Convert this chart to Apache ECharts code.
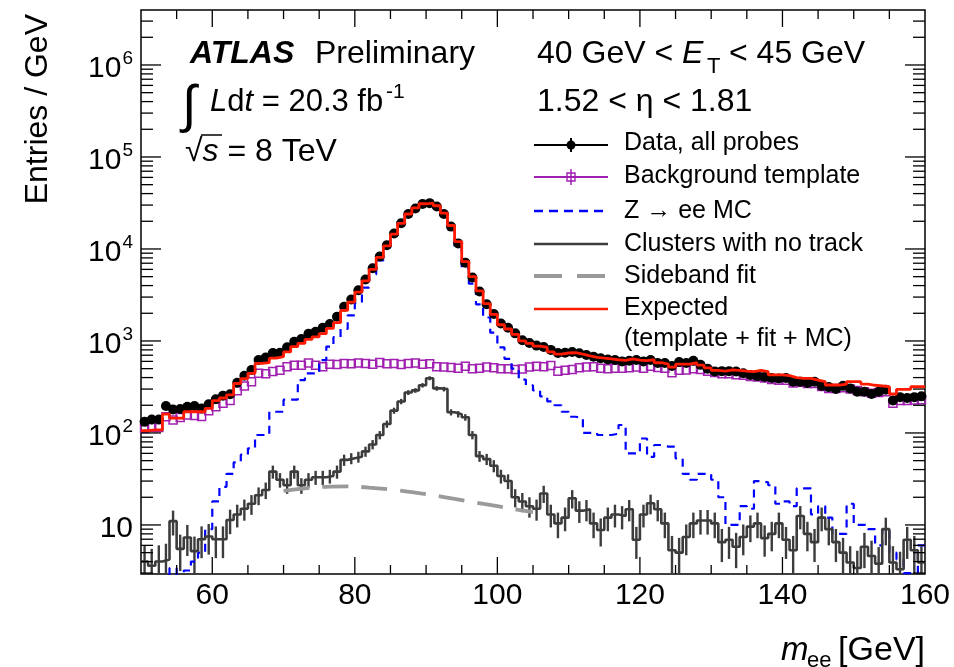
<!DOCTYPE html>
<html>
<head>
<meta charset="utf-8">
<title>m_ee tag-and-probe</title>
<script src="https://cdn.jsdelivr.net/npm/echarts@6.0.0/dist/echarts.min.js"></script>
<style>
    html, body { margin: 0; padding: 0; background: #fff; }
    #main { width: 954px; height: 667px; }
</style>
</head>
<body>
<div id="main"></div>
<script>
// 1 GeV bins from 50 to 160 GeV, entries / GeV
var xMin = 50, xMax = 160, yMin = 2.93, yMax = 3.96e6;

var dataProbes = [
    132, 140, 140, 196, 180, 182, 193, 196, 184, 205,
    232, 254, 263, 352, 418, 484, 620, 660, 740, 745,
    855, 980, 1050, 1200, 1260, 1390, 1530, 1830, 2350, 2820,
    3560, 4660, 6160, 8300, 11000, 14700, 19000, 24000, 27600, 30800,
    31500, 29000, 24000, 17500, 11500, 7100, 4900, 3450, 2510, 1960,
    1550, 1390, 1210, 1020, 950, 890, 860, 800, 740, 745,
    760, 735, 705, 675, 650, 630, 620, 600, 610, 620,
    600, 620, 575, 575, 535, 590, 575, 610, 550, 500,
    465, 470, 470, 465, 445, 427, 415, 405, 395, 390,
    395, 360, 360, 350, 360, 325, 315, 300, 325, 305,
    280, 280, 265, 280, 295, 225, 245, 240, 245, 250
];

var bkgTemplate = [
    112, 115, 115, 150, 138, 147, 157, 155, 151, 174,
    193, 210, 225, 287, 324, 360, 445, 440, 465, 480,
    525, 545, 545, 575, 545, 525, 560, 555, 570, 565,
    575, 570, 560, 585, 565, 570, 555, 570, 575, 560,
    565, 525, 520, 515, 505, 530, 500, 505, 520, 510,
    500, 500, 490, 495, 520, 530, 525, 540, 470, 480,
    490, 510, 520, 525, 505, 500, 505, 505, 510, 520,
    505, 530, 515, 505, 450, 480, 485, 500, 490, 470,
    455, 440, 440, 430, 425, 410, 405, 395, 380, 375,
    375, 350, 355, 345, 345, 320, 305, 305, 310, 300,
    290, 280, 270, 275, 280, 210, 225, 225, 228, 230
];

var zeeMC = [
    1, 1, 1.5, 2, 3.4, 2.5, 3.2, 4, 5, 9,
    18, 26, 36, 48, 58, 68, 95, 95, 170, 170,
    230, 230, 375, 445, 445, 620, 870, 1100, 1350, 1900,
    2600, 3800, 5300, 7500, 10200, 14000, 18500, 23500, 27000, 30000,
    30500, 28000, 23000, 16500, 10500, 6200, 4200, 2500, 1800, 1230,
    850, 640, 500, 380, 330, 290, 250, 220, 200, 170,
    150, 145, 100, 100, 95, 95, 98, 122, 60, 60,
    87, 55, 74, 71, 71, 53, 36, 31, 36, 36,
    31, 20, 10, 10, 16, 15, 30, 29, 27, 17,
    18, 16, 25, 25, 13, 16, 12, 8, 8, 17,
    10, 10, 9, 6, 9, 5, 4.2, 3, 3, 6
];

var clustersNoTrack = [
    4, 3.6, 4, 4.2, 11, 5.5, 7.3, 5.2, 7, 7.5,
    7, 7, 11.3, 13, 15, 17, 21, 24, 38, 31,
    27, 38, 27, 31, 33, 33, 34, 38, 51, 53,
    55, 63, 75, 95, 125, 175, 220, 275, 290, 330,
    394, 305, 300, 168, 160, 148, 95, 56, 52, 44,
    34, 30, 20, 18, 16, 15, 22, 13, 10.4, 12,
    19.5, 14.3, 14.8, 10.4, 8.8, 12, 13, 12.5, 14.8, 6.9,
    13, 17.2, 14.8, 10.4, 5.3, 5, 7.4, 10.4, 11.2, 11.2,
    10.4, 6.5, 6.9, 5.8, 7.4, 9.6, 10.4, 7.2, 8, 10.4,
    6.9, 5.3, 12.5, 8, 6.5, 12, 9, 6.5, 5, 3.9,
    3.4, 5.8, 4.6, 3.8, 9, 3.9, 3.3, 6.9, 5.3, 3.9
];

var expected = [
    106, 108, 108, 160, 145, 145, 170, 170, 170, 185,
    225, 240, 260, 345, 390, 445, 570, 580, 650, 675,
    760, 870, 940, 1040, 1110, 1200, 1370, 1580, 2150, 2650,
    3400, 4500, 6000, 8100, 10800, 14500, 19000, 24000, 28000, 31000,
    31500, 29500, 24500, 18000, 12000, 7300, 5000, 3500, 2550, 1950,
    1500, 1350, 1180, 1000, 940, 880, 850, 760, 720, 740,
    745, 720, 690, 665, 650, 640, 625, 615, 640, 620,
    610, 625, 580, 560, 520, 560, 560, 580, 545, 510,
    480, 470, 484, 480, 470, 464, 480, 464, 427, 427,
    420, 400, 392, 392, 375, 361, 332, 332, 340, 361,
    361, 340, 330, 325, 318, 265, 298, 298, 318, 318
];

// sideband fit curve
var fitMass = [70, 73, 76, 79, 82, 85, 88, 91, 94, 97, 100, 103, 105];
var fitValue = [23.5, 25, 26, 26.2, 25.5, 24.3, 22.8, 21, 19.2, 17.5, 16, 14.6, 13.8];

// frame ticks
var xMajorTicks = [60, 80, 100, 120, 140];
var xMinorTicks = [55, 65, 70, 75, 85, 90, 95, 105, 110, 115, 125, 130, 135, 145, 150, 155];
var yMajorTicks = [10, 100, 1000, 10000, 100000, 1000000];
var yMinorSteps = [2, 3, 4, 5, 6, 7, 8, 9];

var FONT = '"Liberation Sans", Arial, Helvetica, sans-serif';
var PURPLE = '#a020b0';
var BLUE = '#0000ff';
var DARK = '#3c3c3c';
var FITGREY = '#9a9a9a';
var RED = '#ff1a00';

var binCenters = dataProbes.map(function (v, i) { return xMin + i + 0.5; });

// histogram outline: point at each low edge, last bin repeated at the upper edge
function stepData(vals) {
    var out = vals.map(function (v, i) { return [xMin + i, v]; });
    out.push([xMax, vals[vals.length - 1]]);
    return out;
}

var tickData = [];
xMajorTicks.forEach(function (v) { tickData.push([v, yMin, 0]); });
xMinorTicks.forEach(function (v) { tickData.push([v, yMin, 1]); });
yMajorTicks.forEach(function (v) { tickData.push([xMin, v, 2]); });
[1, 10, 100, 1000, 10000, 100000, 1000000].forEach(function (d) {
    yMinorSteps.forEach(function (m) {
        var v = d * m;
        if (v > yMin && v < yMax) tickData.push([xMin, v, 3]);
    });
});

function txt(x, y, s, font, align, extra) {
    var el = {
        type: 'text', x: x, y: y, z: 100, silent: true,
        style: {
            text: s, font: font, fill: '#000',
            align: align || 'left', verticalAlign: 'middle',
            textAlign: align || 'left', textVerticalAlign: 'middle'
        }
    };
    if (extra) {
        for (var k in extra) {
            if (k === 'rich') el.style.rich = extra.rich; else el[k] = extra[k];
        }
    }
    return el;
}

function seg(x1, y1, x2, y2, color, w, dash) {
    return {
        type: 'line', z: 100, silent: true,
        shape: { x1: x1, y1: y1, x2: x2, y2: y2 },
        style: { stroke: color, lineWidth: w, lineDash: dash || null }
    };
}

var f32 = '32px ' + FONT, f32i = 'italic 32px ' + FONT;
var legX1 = 534, legX2 = 608, legMid = 571, legText = 624;
var legRows = [145, 177, 211, 244, 276, 309];

var graphics = [
    txt(190, 54, 'ATLAS', 'italic bold 32px ' + FONT),
    txt(315, 54, 'Preliminary', f32),
    txt(182, 108, '\u222B', '52px ' + FONT),
    txt(210, 102, '{i|L}d{i|t} = 20.3 fb', '31px ' + FONT, 'left', { rich: { i: { font: 'italic 31px ' + FONT } } }),
    txt(386, 92, '-1', '21px ' + FONT),
    txt(185, 152, '\u221A{i|s} = 8 TeV', f32, 'left', { rich: { i: { font: f32i } } }),
    seg(201, 135, 222, 135, '#000', 1.5),
    txt(537, 54, '40 GeV < {i|E}', f32, 'left', { rich: { i: { font: f32i } } }),
    txt(707, 67, 'T', '22px ' + FONT),
    txt(729, 54, '< 45 GeV', f32),
    txt(537, 102, '1.52 < \u03B7 < 1.81', f32),
    // legend
    seg(legX1, legRows[0], legX2, legRows[0], '#000', 2),
    seg(legMid, legRows[0] - 7, legMid, legRows[0] + 7, '#000', 2),
    { type: 'circle', z: 100, silent: true, shape: { cx: legMid, cy: legRows[0], r: 4.5 }, style: { fill: '#000' } },
    seg(legX1, legRows[1], legX2, legRows[1], PURPLE, 2),
    seg(legMid, legRows[1] - 8, legMid, legRows[1] + 8, PURPLE, 1.5),
    { type: 'rect', z: 100, silent: true, shape: { x: legMid - 4, y: legRows[1] - 4, width: 8, height: 8 }, style: { fill: 'none', stroke: PURPLE, lineWidth: 1.4 } },
    seg(legX1, legRows[2], legX2, legRows[2], BLUE, 2.5, [9, 6]),
    seg(legX1, legRows[3], legX2, legRows[3], DARK, 2.5),
    seg(legX1, legRows[4], legX2, legRows[4], FITGREY, 4, [28, 15]),
    seg(legX1, legRows[5], legX2, legRows[5], RED, 2.5),
    txt(legText, 143, 'Data, all probes', '25px ' + FONT),
    txt(legText, 176, 'Background template', '25px ' + FONT),
    txt(legText, 211, 'Z \u2192 ee MC', '25px ' + FONT),
    txt(legText, 244, 'Clusters with no track', '25px ' + FONT),
    txt(legText, 276, 'Sideband fit', '25px ' + FONT),
    txt(legText, 308, 'Expected', '25px ' + FONT),
    txt(legText, 339, '(template + fit + MC)', '25px ' + FONT),
    // axis titles
    txt(38, 14, 'Entries / GeV', f32, 'right', { rotation: Math.PI / 2 }),
    txt(781, 651, 'm', 'italic 33px ' + FONT),
    txt(807, 661, 'ee', '22px ' + FONT),
    txt(925, 651, '[GeV]', '34px ' + FONT, 'right')
];

var chart = echarts.init(document.getElementById('main'));

chart.setOption({
    animation: false,
    backgroundColor: '#fff',
    grid: {
        left: 141, right: 29, top: 10, bottom: 93,
        show: true, borderColor: '#000', borderWidth: 1.5, backgroundColor: 'transparent'
    },
    xAxis: {
        type: 'value', min: xMin, max: xMax,
        axisLine: { show: false }, axisTick: { show: false }, splitLine: { show: false },
        axisLabel: { fontSize: 30, fontFamily: FONT, color: '#000', margin: 7, showMinLabel: false }
    },
    yAxis: {
        type: 'log', logBase: 10, min: yMin, max: yMax, splitNumber: 6,
        axisLine: { show: false }, axisTick: { show: false }, splitLine: { show: false },
        axisLabel: {
            showMinLabel: false, showMaxLabel: false, margin: 8, padding: [8, 0, 0, 0],
            formatter: function (v) {
                var p = Math.log10(v), n = Math.round(p);
                if (Math.abs(p - n) > 1e-6) return '';
                return n === 1 ? '{b|10}' : '{b|10}{s|' + n + '}';
            },
            rich: {
                b: { fontSize: 30, lineHeight: 30, fontFamily: FONT, color: '#000', verticalAlign: 'bottom' },
                s: { fontSize: 19, lineHeight: 19, fontFamily: FONT, color: '#000', verticalAlign: 'bottom', padding: [0, 0, 16, 1] }
            }
        }
    },
    graphic: graphics,
    series: [
        {
            name: 'Background template', type: 'scatter',
            data: binCenters.map(function (c, i) { return [c, bkgTemplate[i]]; }),
            symbol: 'rect', symbolSize: 8,
            itemStyle: { color: 'rgba(0,0,0,0)', borderColor: PURPLE, borderWidth: 1.5, opacity: 1 },
            z: 2
        },
        {
            name: 'Z -> ee MC', type: 'line', step: 'end', showSymbol: false,
            data: stepData(zeeMC),
            lineStyle: { color: BLUE, width: 2.2, type: [8, 6] },
            z: 3
        },
        {
            name: 'Clusters with no track', type: 'line', step: 'end', showSymbol: false,
            data: stepData(clustersNoTrack),
            lineStyle: { color: DARK, width: 2.6 },
            z: 3
        },
        {
            name: 'Clusters errors', type: 'custom', clip: true,
            data: binCenters.map(function (c, i) { return [c, clustersNoTrack[i]]; }),
            renderItem: function (params, api) {
                var x = api.value(0), v = api.value(1), e = Math.sqrt(v);
                var a = api.coord([x, v + e]);
                var b = api.coord([x, Math.max(v - e, 0.3)]);
                return {
                    type: 'line',
                    shape: { x1: a[0], y1: a[1], x2: b[0], y2: b[1] },
                    style: { stroke: DARK, lineWidth: 2.4 }
                };
            },
            z: 3
        },
        {
            name: 'Sideband fit', type: 'line', smooth: 0.4, showSymbol: false,
            data: fitMass.map(function (m, i) { return [m, fitValue[i]]; }),
            lineStyle: { color: FITGREY, width: 3.8, type: [26, 13] },
            z: 3
        },
        {
            name: 'Data, all probes', type: 'scatter',
            data: binCenters.map(function (c, i) { return [c, dataProbes[i]]; }),
            symbol: 'circle', symbolSize: 10,
            itemStyle: { color: '#000', opacity: 1 },
            z: 4
        },
        {
            name: 'Expected', type: 'line', step: 'end', showSymbol: false,
            data: stepData(expected),
            lineStyle: { color: RED, width: 2.8 },
            z: 5
        },
        {
            name: 'ticks', type: 'custom', clip: false, silent: true,
            data: tickData,
            renderItem: function (params, api) {
                var cs = params.coordSys;
                var kind = api.value(2);
                var p = api.coord([api.value(0), api.value(1)]);
                var st = { stroke: '#000', lineWidth: 1.3 };
                var bottom = cs.y + cs.height, right = cs.x + cs.width;
                if (kind < 2) {
                    var len = kind === 0 ? 17 : 9;
                    return { type: 'group', children: [
                        { type: 'line', shape: { x1: p[0], y1: bottom, x2: p[0], y2: bottom - len }, style: st },
                        { type: 'line', shape: { x1: p[0], y1: cs.y, x2: p[0], y2: cs.y + len }, style: st }
                    ] };
                }
                var ylen = kind === 2 ? 20 : 12;
                return { type: 'group', children: [
                    { type: 'line', shape: { x1: cs.x, y1: p[1], x2: cs.x + ylen, y2: p[1] }, style: st },
                    { type: 'line', shape: { x1: right, y1: p[1], x2: right - ylen, y2: p[1] }, style: st }
                ] };
            },
            z: 10
        }
    ]
});
</script>
</body>
</html>
